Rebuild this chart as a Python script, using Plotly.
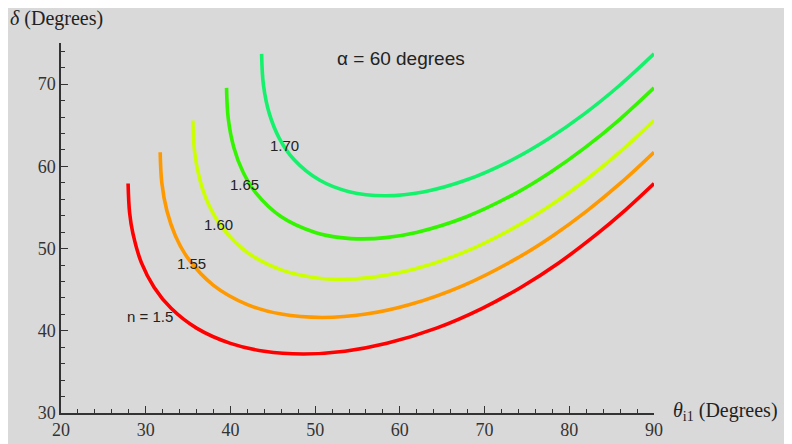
import plotly.graph_objects as go

# Refractive indices and colours
n_values = ["1.5", "1.55", "1.60", "1.65", "1.70"]
colors = ["#ff0000", "#ff9900", "#ccff00", "#33f500", "#14f26c"]

# Incidence angle theta_i1 (deg) and deviation delta (deg)
theta_15 = [27.92, 28.1, 28.5, 29.5, 31.0, 33.0, 36.0, 40.0, 44.0, 48.59, 53.51, 58.47, 64.32, 69.73, 74.27, 78.75, 83.28, 86.24, 90.0]
delta_15 = [57.92, 54.34, 51.78, 48.25, 45.27, 42.73, 40.32, 38.47, 37.51, 37.18, 37.51, 38.47, 40.32, 42.73, 45.27, 48.25, 51.78, 54.34, 57.92]

theta_155 = [31.71, 31.9, 32.5, 33.5, 35.0, 38.0, 42.0, 46.0, 50.81, 56.03, 61.19, 67.53, 73.80, 78.07, 82.09, 86.11, 90.0]
delta_155 = [61.71, 58.01, 54.59, 51.57, 48.80, 45.53, 43.19, 42.03, 41.62, 42.03, 43.19, 45.53, 48.80, 51.57, 54.59, 58.01, 61.71]

theta_160 = [35.57, 35.77, 36.4, 37.4, 39.0, 42.0, 46.0, 50.0, 53.13, 56.46, 61.41, 67.53, 73.60, 78.02, 81.94, 86.01, 90.0]
delta_160 = [65.57, 61.78, 58.34, 55.42, 52.60, 49.53, 47.41, 46.46, 46.26, 46.46, 47.41, 49.53, 52.60, 55.42, 58.34, 61.78, 65.57]

theta_165 = [39.54, 39.75, 40.4, 41.5, 43.0, 46.0, 50.0, 53.0, 55.59, 58.33, 61.96, 67.87, 73.78, 77.78, 81.90, 86.00, 90.0]
delta_165 = [69.54, 65.75, 62.30, 59.28, 56.78, 53.87, 51.96, 51.33, 51.18, 51.33, 51.96, 53.87, 56.78, 59.28, 62.30, 65.75, 69.54]

theta_170 = [43.68, 43.9, 44.6, 45.8, 47.5, 50.5, 54.0, 58.21, 62.92, 67.83, 73.33, 77.55, 81.78, 85.96, 90.0]
delta_170 = [73.68, 69.86, 66.38, 63.35, 60.83, 58.33, 56.92, 56.42, 56.92, 58.33, 60.83, 63.35, 66.38, 69.86, 73.68]

series = [(theta_15, delta_15), (theta_155, delta_155), (theta_160, delta_160),
          (theta_165, delta_165), (theta_170, delta_170)]

x_ticks = [20, 30, 40, 50, 60, 70, 80, 90]
y_ticks = [30, 40, 50, 60, 70]

fig = go.Figure()
for (tx, dy), c, nv in zip(series, colors, n_values):
    fig.add_trace(go.Scatter(x=tx, y=dy, mode="lines", name=nv,
                             line=dict(color=c, width=3.6, shape="spline", smoothing=1.0),
                             hoverinfo="skip"))

label_font = dict(family="Liberation Sans, Arial, sans-serif", size=15, color="#222")
labels = [("n = 1.5", 30.49, 41.76), ("1.55", 35.44, 48.18), ("1.60", 38.62, 52.91),
          ("1.65", 41.68, 57.76), ("1.70", 46.40, 62.48)]
for txt, lx, ly in labels:
    fig.add_annotation(x=lx, y=ly, text=txt, showarrow=False, font=label_font,
                       xanchor="center", yanchor="middle")

serif = "Liberation Serif, Times New Roman, serif"
OFF = 8  # page body margin: screen px = figure px + 8
W, H = 792, 444
L, R, T, B = 61 - OFF, W - (654 - OFF), 43 - OFF, H - (413 - OFF)
pw = W - L - R
ph = H - T - B

def sx(p):
    return (p - OFF - L) / pw

def sy(p):
    return (H - B - (p - OFF)) / ph

fig.add_annotation(xref="paper", yref="paper", x=sx(335), y=sy(58),
                   text="\u03b1 = 60 degrees", showarrow=False,
                   font=dict(family="Liberation Sans, Arial, sans-serif", size=19, color="#222"),
                   xanchor="left", yanchor="middle")

fig.add_annotation(xref="paper", yref="paper", x=sx(671), y=sy(411),
                   text="<i>\u03b8</i><sub>i1</sub> (Degrees)", showarrow=False, xanchor="left", yanchor="middle",
                   font=dict(family=serif, size=20, color="#222"))

axis_common = dict(showgrid=False, zeroline=False, showline=True, linecolor="#333", linewidth=1.5,
                   ticks="inside", ticklen=7, tickwidth=1.3, tickcolor="#333",
                   tickfont=dict(family=serif, size=18, color="#333"), mirror=False)

fig.update_layout(
    width=W, height=H,
    margin=dict(l=L, r=R, t=T, b=B),
    paper_bgcolor="#d9d9d9", plot_bgcolor="#d9d9d9",
    showlegend=False,
    title=dict(text="<i>\u03b4</i> (Degrees)", xref="container", yref="container",
               x=(10 - OFF) / W, xanchor="left", y=1 - (18 - OFF) / H, yanchor="middle",
               font=dict(family=serif, size=20, color="#222")),
    xaxis=dict(range=[20, 90], tickvals=x_ticks, ticktext=[str(v) for v in x_ticks],
               minor=dict(dtick=2, tick0=20, ticks="inside", ticklen=4, tickcolor="#333", tickwidth=1.2),
               **axis_common),
    yaxis=dict(range=[30, 75], tickvals=y_ticks, ticktext=[str(v) for v in y_ticks],
               minor=dict(dtick=2, tick0=30, ticks="inside", ticklen=4, tickcolor="#333", tickwidth=1.2),
               **axis_common),
)

fig.write_html("out.html")
